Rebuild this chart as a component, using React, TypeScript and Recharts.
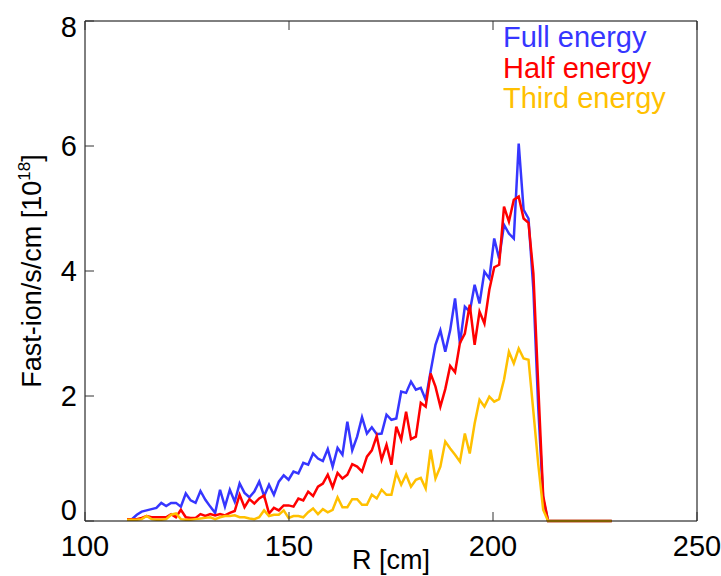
import { LineChart, Line, XAxis, YAxis, Label } from 'recharts';

// radius grid (cm)
const radius = [
    110.3, 111.5, 112.7, 113.9, 115.1, 116.3, 117.5, 118.7, 119.9, 121.1,
    122.3, 123.5, 124.7, 125.9, 127.1, 128.3, 129.5, 130.7, 131.9, 133.1,
    134.3, 135.5, 136.7, 137.9, 139.1, 140.3, 141.5, 142.7, 143.9, 145.1,
    146.3, 147.5, 148.7, 149.9, 151.1, 152.3, 153.5, 154.7, 155.9, 157.1,
    158.3, 159.5, 160.7, 161.9, 163.1, 164.3, 165.5, 166.7, 167.9, 169.1,
    170.3, 171.5, 172.7, 173.9, 175.1, 176.3, 177.5, 178.7, 179.9, 181.1,
    182.3, 183.5, 184.7, 185.9, 187.1, 188.3, 189.5, 190.7, 191.9, 193.1,
    194.3, 195.5, 196.7, 197.9, 199.1, 200.3, 201.5, 202.7, 203.9, 205.1,
    206.3, 207.5, 208.7, 209.9, 211.1, 212.3, 213.5, 214.7, 215.9, 217.1,
    218.3, 219.5, 220.7, 221.9, 223.1, 224.3, 225.5, 226.7, 227.9, 229.1,
];

const fullEnergy = [
    0.03, 0.03, 0.1, 0.15, 0.17, 0.19, 0.21, 0.29, 0.24, 0.29,
    0.29, 0.23, 0.44, 0.33, 0.29, 0.48, 0.34, 0.23, 0.13, 0.5,
    0.23, 0.5, 0.31, 0.6, 0.45, 0.38, 0.47, 0.63, 0.4, 0.58,
    0.42, 0.63, 0.73, 0.66, 0.79, 0.76, 0.93, 0.9, 1.08, 1.0,
    0.96, 1.15, 0.87, 1.17, 1.06, 1.59, 1.13, 1.35, 1.66, 1.4,
    1.5, 1.39, 1.4, 1.7, 1.62, 1.64, 2.07, 2.05, 2.23, 2.1,
    2.13, 1.94, 2.39, 2.82, 3.05, 2.71, 3.05, 3.56, 2.84, 3.43,
    3.35, 3.78, 3.48, 3.99, 3.88, 4.52, 4.2, 4.74, 4.6, 4.52,
    6.04, 4.98, 4.84, 3.7, 1.8, 0.35, 0, 0, 0, 0,
    0, 0, 0, 0, 0, 0, 0, 0, 0, 0,
];

const halfEnergy = [
    0.03, 0.03, 0.03, 0.05, 0.08, 0.06, 0.06, 0.06, 0.06, 0.11,
    0.06, 0.18, 0.06, 0.05, 0.05, 0.11, 0.08, 0.11, 0.09, 0.11,
    0.09, 0.13, 0.16, 0.42, 0.22, 0.35, 0.28, 0.36, 0.41, 0.12,
    0.21, 0.17, 0.25, 0.25, 0.23, 0.36, 0.33, 0.47, 0.4, 0.55,
    0.6, 0.74, 0.54, 0.77, 0.68, 0.74, 0.91, 0.87, 0.79, 1.03,
    1.13, 1.36, 0.98, 1.22, 0.9, 1.51, 1.3, 1.75, 1.31, 1.35,
    1.89, 1.83, 2.36, 2.15, 1.83, 2.11, 2.48, 2.38, 2.85, 3.0,
    3.46, 2.82, 3.35, 3.16, 3.7, 4.06, 4.1, 5.03, 4.79, 5.14,
    5.19, 4.84, 4.77, 3.96, 2.15, 0.4, 0, 0, 0, 0,
    0, 0, 0, 0, 0, 0, 0, 0, 0, 0,
];

const thirdEnergy = [
    0.02, 0.02, 0.02, 0.03, 0.08, 0.03, 0.02, 0.02, 0.03, 0.1,
    0.12, 0.03, 0.02, 0.02, 0.03, 0.04, 0.05, 0.06, 0.03, 0.06,
    0.08, 0.08, 0.09, 0.06, 0.06, 0.04, 0.03, 0.06, 0.17, 0.08,
    0.1, 0.1, 0.17, 0.05, 0.08, 0.08, 0.06, 0.14, 0.2, 0.11,
    0.19, 0.14, 0.18, 0.38, 0.22, 0.22, 0.35, 0.35, 0.26, 0.26,
    0.42, 0.36, 0.5, 0.42, 0.42, 0.77, 0.58, 0.74, 0.55, 0.66,
    0.69, 0.52, 1.14, 0.68, 0.87, 1.27, 1.16, 1.06, 0.95, 1.4,
    1.08, 1.56, 1.94, 1.83, 1.99, 1.91, 1.95, 2.26, 2.71, 2.52,
    2.76, 2.6, 2.58, 1.75, 0.9, 0.18, 0, 0, 0, 0,
    0, 0, 0, 0, 0, 0, 0, 0, 0, 0,
];

const xTicks = [100, 150, 200, 250];
const yTicks = [0, 2, 4, 6, 8];

const seriesNames = ['Full energy', 'Half energy', 'Third energy'];
const seriesColors = ['#3636ff', '#ff0000', '#ffc000'];

const FONT = '"Liberation Sans", Arial, Helvetica, sans-serif';
const TICK_LEN = 9;

const data = radius.map((r, i) => ({
    r,
    full: fullEnergy[i],
    half: halfEnergy[i],
    third: thirdEnergy[i],
}));

function BottomTick(props: any) {
    const { x, y, payload } = props;
    return (
        <g>
            <line x1={x} x2={x} y1={y} y2={y - TICK_LEN} stroke="#333" />
            <text x={x} y={y + 35} textAnchor="middle" fontSize={29} fontFamily={FONT} fill="#000">
                {payload.value}
            </text>
        </g>
    );
}

function TopTick(props: any) {
    const { x, y } = props;
    return <line x1={x} x2={x} y1={y} y2={y + TICK_LEN} stroke="#333" />;
}

function LeftTick(props: any) {
    const { x, y, payload } = props;
    // IDL keeps the end labels inside the frame
    let dy = 10;
    if (payload.value === 0) dy = -1;
    if (payload.value === 8) dy = 16;
    return (
        <g>
            <line x1={x} x2={x + TICK_LEN} y1={y} y2={y} stroke="#333" />
            <text x={x - 8} y={y + dy} textAnchor="end" fontSize={29} fontFamily={FONT} fill="#000">
                {payload.value}
            </text>
        </g>
    );
}

function RightTick(props: any) {
    const { x, y } = props;
    return <line x1={x} x2={x - TICK_LEN} y1={y} y2={y} stroke="#333" />;
}

function YTitle(props: any) {
    const vb = props.viewBox;
    const cx = vb.x + 41;
    const cy = vb.y + vb.height / 2;
    return (
        <text
            x={cx}
            y={cy}
            transform={`rotate(-90, ${cx}, ${cy})`}
            textAnchor="middle"
            fontSize={27}
            fontFamily={FONT}
            fill="#000"
        >
            Fast-ion/s/cm [10
            <tspan fontSize={17} dy={-11}>18</tspan>
            <tspan dy={11}>]</tspan>
        </text>
    );
}

function XTitle(props: any) {
    const vb = props.viewBox;
    return (
        <text
            x={vb.x + vb.width / 2}
            y={vb.y + 48}
            textAnchor="middle"
            fontSize={27}
            fontFamily={FONT}
            fill="#000"
        >
            R [cm]
        </text>
    );
}

export default function App() {
    return (
        <div style={{ position: 'relative', width: 721, height: 576, background: '#fff' }}>
            <style>{'body{margin:0}'}</style>
            <LineChart
                width={721}
                height={576}
                data={data}
                margin={{ top: 20, right: 23, bottom: 0, left: 0 }}
            >
                <XAxis
                    dataKey="r"
                    type="number"
                    domain={[100, 250]}
                    ticks={xTicks}
                    interval={0}
                    height={55}
                    tickSize={0}
                    tickMargin={0}
                    tickLine={false}
                    tick={<BottomTick />}
                    axisLine={{ stroke: '#000' }}
                    label={<Label content={<XTitle />} />}
                />
                <XAxis
                    xAxisId="top"
                    orientation="top"
                    dataKey="r"
                    type="number"
                    domain={[100, 250]}
                    ticks={xTicks}
                    interval={0}
                    height={1}
                    tickSize={0}
                    tickMargin={0}
                    tickLine={false}
                    tick={<TopTick />}
                    axisLine={{ stroke: '#000' }}
                />
                <YAxis
                    type="number"
                    domain={[0, 8]}
                    ticks={yTicks}
                    interval={0}
                    width={85}
                    tickSize={0}
                    tickMargin={0}
                    tickLine={false}
                    tick={<LeftTick />}
                    axisLine={{ stroke: '#000' }}
                    label={<Label content={<YTitle />} />}
                />
                <YAxis
                    yAxisId="right"
                    orientation="right"
                    type="number"
                    domain={[0, 8]}
                    ticks={yTicks}
                    interval={0}
                    width={1}
                    tickSize={0}
                    tickMargin={0}
                    tickLine={false}
                    tick={<RightTick />}
                    axisLine={{ stroke: '#000' }}
                />
                <Line type="linear" dataKey="full" name={seriesNames[0]} stroke={seriesColors[0]} strokeWidth={2.5} dot={false} isAnimationActive={false} />
                <Line type="linear" dataKey="half" name={seriesNames[1]} stroke={seriesColors[1]} strokeWidth={2.5} dot={false} isAnimationActive={false} />
                <Line type="linear" dataKey="third" name={seriesNames[2]} stroke={seriesColors[2]} strokeWidth={2.5} dot={false} isAnimationActive={false} />
            </LineChart>
            <div
                style={{
                    position: 'absolute',
                    left: 503,
                    top: 22,
                    fontFamily: FONT,
                    fontSize: 29,
                    lineHeight: '30.5px',
                }}
            >
                {seriesNames.map((name, i) => (
                    <div key={name} style={{ color: seriesColors[i], whiteSpace: 'nowrap' }}>{name}</div>
                ))}
            </div>
        </div>
    );
}
